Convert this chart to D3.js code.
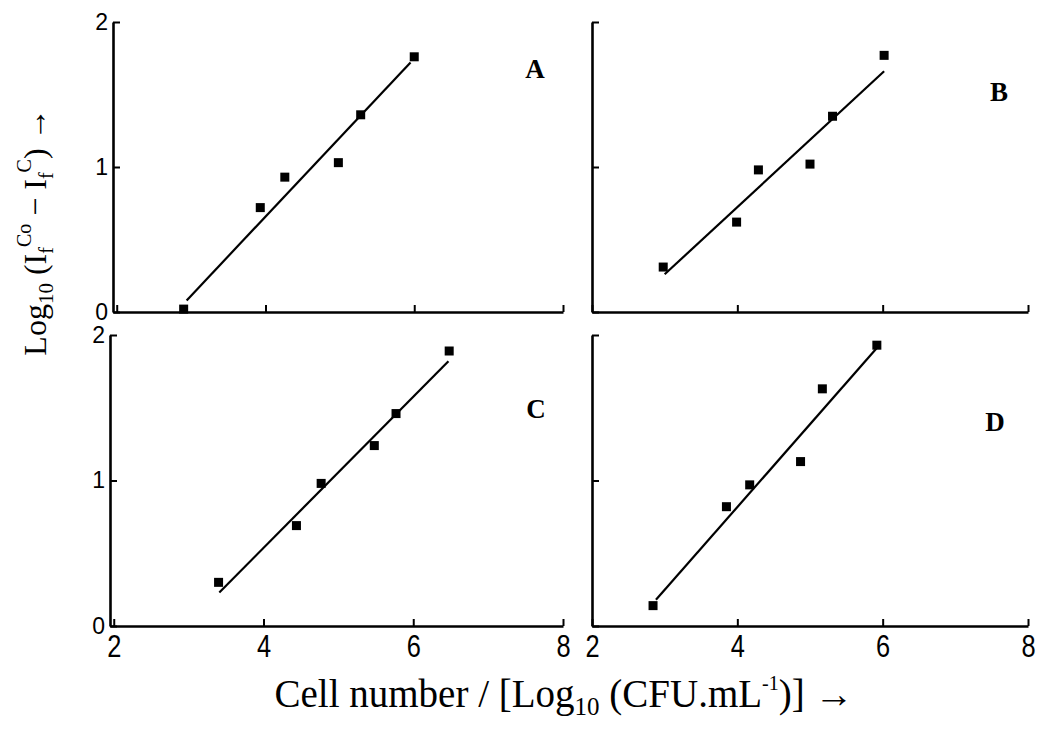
<!DOCTYPE html>
<html>
<head>
<meta charset="utf-8">
<script src="https://cdn.jsdelivr.net/npm/d3@7"></script>
<style>
  html, body { margin: 0; padding: 0; background: #fff; }
  svg { display: block; }
</style>
</head>
<body>
<svg id="chart" width="1038" height="734"></svg>
<script>
// Calibration data for four assays: log10 cell count vs. fluorescence quenching
const panelNames = ["A", "B", "C", "D"];

const cellA = [2.90, 3.93, 4.26, 4.98, 5.28, 6.00];
const quenchA = [0.02, 0.72, 0.93, 1.03, 1.36, 1.76];
const fitCellA = [2.94, 5.95];
const fitQuenchA = [0.08, 1.72];

const cellB = [2.98, 3.99, 4.29, 5.00, 5.31, 6.02];
const quenchB = [0.31, 0.62, 0.98, 1.02, 1.35, 1.77];
const fitCellB = [3.00, 6.02];
const fitQuenchB = [0.26, 1.66];

const cellC = [3.40, 4.44, 4.77, 5.48, 5.77, 6.48];
const quenchC = [0.30, 0.69, 0.98, 1.24, 1.46, 1.89];
const fitCellC = [3.41, 6.47];
const fitQuenchC = [0.23, 1.82];

const cellD = [2.84, 3.85, 4.17, 4.87, 5.17, 5.92];
const quenchD = [0.14, 0.82, 0.97, 1.13, 1.63, 1.93];
const fitCellD = [2.88, 5.92];
const fitQuenchD = [0.18, 1.91];

const xTicks = [2, 4, 6, 8];
const yTicks = [0, 1, 2];

const svg = d3.select("#chart");

// Panel layout: column x ranges, row y ranges, and which axes carry labels
const panels = [
  { name: panelNames[0], cell: cellA, q: quenchA, fx: fitCellA, fy: fitQuenchA,
    xDom: [1.95, 8], xr: [113, 563], yr: [312, 22], xLab: false, yLab: true, lab: [535, 78] },
  { name: panelNames[1], cell: cellB, q: quenchB, fx: fitCellB, fy: fitQuenchB,
    xDom: [2, 8], xr: [592, 1028], yr: [312, 22], xLab: false, yLab: false, lab: [999, 101] },
  { name: panelNames[2], cell: cellC, q: quenchC, fx: fitCellC, fy: fitQuenchC,
    xDom: [1.95, 8], xr: [110, 563], yr: [626, 335], xLab: true, yLab: true, lab: [536, 418] },
  { name: panelNames[3], cell: cellD, q: quenchD, fx: fitCellD, fy: fitQuenchD,
    xDom: [2, 8], xr: [592, 1028], yr: [626, 335], xLab: true, yLab: false, lab: [995, 431] }
];

panels.forEach(p => {
  const x = d3.scaleLinear().domain(p.xDom).range(p.xr);
  const y = d3.scaleLinear().domain([0, 2]).range(p.yr);
  const g = svg.append("g");

  // x axis with inward ticks
  const xAxis = d3.axisBottom(x)
    .tickValues(xTicks)
    .tickSizeInner(-7)
    .tickSizeOuter(0)
    .tickPadding(9)
    .tickFormat(p.xLab ? d3.format("d") : () => "");
  const xg = g.append("g")
    .attr("transform", `translate(0,${p.yr[0]})`)
    .call(xAxis);
  xg.select(".domain").attr("stroke-width", 2.6).attr("stroke", "#000");
  xg.selectAll(".tick line").attr("stroke-width", 2).attr("stroke", "#000");
  xg.selectAll(".tick text")
    .attr("font-family", "'Liberation Sans', Arial, sans-serif")
    .attr("font-size", 31)
    .attr("fill", "#000")
    .attr("transform", "scale(0.82,1)");

  // y axis with inward ticks
  const yAxis = d3.axisLeft(y)
    .tickValues(yTicks)
    .tickSizeInner(-7)
    .tickSizeOuter(0)
    .tickPadding(5)
    .tickFormat(p.yLab ? d3.format("d") : () => "");
  const yg = g.append("g")
    .attr("transform", `translate(${p.xr[0]},0)`)
    .call(yAxis);
  yg.select(".domain").attr("stroke-width", 2.6).attr("stroke", "#000");
  yg.selectAll(".tick line").attr("stroke-width", 2).attr("stroke", "#000");
  yg.selectAll(".tick text")
    .attr("font-family", "'Liberation Sans', Arial, sans-serif")
    .attr("font-size", 23)
    .attr("fill", "#000");

  // regression line
  const fit = p.fx.map((v, i) => [v, p.fy[i]]);
  g.append("path")
    .datum(fit)
    .attr("fill", "none")
    .attr("stroke", "#000")
    .attr("stroke-width", 2.2)
    .attr("d", d3.line().x(d => x(d[0])).y(d => y(d[1])));

  // measured points as filled squares
  const s = 9;
  g.selectAll("rect.pt")
    .data(p.cell.map((v, i) => [v, p.q[i]]))
    .join("rect")
    .attr("class", "pt")
    .attr("x", d => x(d[0]) - s / 2)
    .attr("y", d => y(d[1]) - s / 2)
    .attr("width", s)
    .attr("height", s)
    .attr("fill", "#000");

  // panel letter
  g.append("text")
    .attr("x", p.lab[0])
    .attr("y", p.lab[1])
    .attr("text-anchor", "middle")
    .attr("font-family", "'Liberation Serif', 'Times New Roman', serif")
    .attr("font-weight", "bold")
    .attr("font-size", 27)
    .text(p.name);
});

// shared y-axis title
const yTitle = svg.append("text")
  .attr("transform", "translate(46,232) rotate(-90)")
  .attr("text-anchor", "middle")
  .attr("font-family", "'Liberation Serif', 'Times New Roman', serif")
  .attr("font-size", 32)
  .attr("fill", "#000");
yTitle.append("tspan").text("Log");
yTitle.append("tspan").attr("font-size", 21).attr("dy", 7).text("10");
yTitle.append("tspan").attr("dy", -7).text(" (I");
yTitle.append("tspan").attr("font-size", 20).attr("dy", 7).text("f");
yTitle.append("tspan").attr("font-size", 20).attr("dy", -22).text("Co");
yTitle.append("tspan").attr("dy", 15).text(" \u2212 I");
yTitle.append("tspan").attr("font-size", 20).attr("dy", 7).text("f");
yTitle.append("tspan").attr("font-size", 20).attr("dy", -22).text("C");
yTitle.append("tspan").attr("dy", 15).text(") \u2192");

// shared x-axis title
const xTitle = svg.append("text")
  .attr("x", 564)
  .attr("y", 707)
  .attr("text-anchor", "middle")
  .attr("font-family", "'Liberation Serif', 'Times New Roman', serif")
  .attr("font-size", 39)
  .attr("fill", "#000");
xTitle.append("tspan").text("Cell number / [Log");
xTitle.append("tspan").attr("font-size", 25).attr("dy", 8).text("10");
xTitle.append("tspan").attr("dy", -8).text(" (CFU.mL");
xTitle.append("tspan").attr("font-size", 20).attr("dy", -17).text("-1");
xTitle.append("tspan").attr("dy", 17).text(")] \u2192");
</script>
</body>
</html>
